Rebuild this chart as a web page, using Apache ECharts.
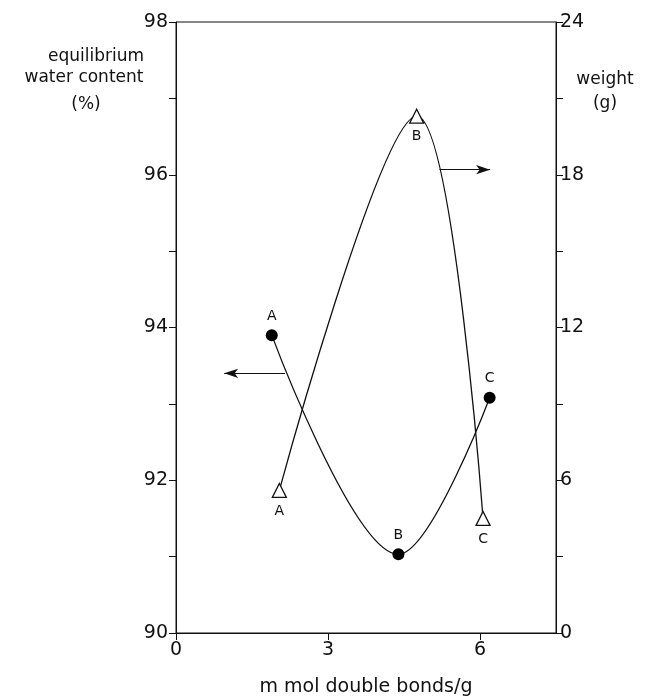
<!DOCTYPE html>
<html>
<head>
<meta charset="utf-8">
<script src="https://cdn.jsdelivr.net/npm/echarts@6/dist/echarts.min.js"></script>
<style>html,body{margin:0;padding:0;background:#fff;}#c{width:649px;height:700px;}</style>
</head>
<body>
<div id="c"></div>
<script>
// Data
const pointLabels = ['A', 'B', 'C'];
const doubleBondsWater = [1.89, 4.39, 6.19];
const waterContent = [93.9, 91.03, 93.08];
const doubleBondsWeight = [2.04, 4.75, 6.06];
const weightG = [5.6, 20.3, 4.5];
const xTicks = [0, 3, 6];
const leftTickLabels = [90, 92, 94, 96, 98];
const rightTickLabels = [0, 6, 12, 18, 24];
// annotation arrows (data coordinates)
const leftArrow = [[2.15, 93.4], [0.95, 93.4]];
const rightArrow = [[5.2, 18.2], [6.2, 18.2]];

const FONT = 'DejaVu Sans';
const chart = echarts.init(document.getElementById('c'));

const waterData = doubleBondsWater.map((x, i) => ({value: [x, waterContent[i]], name: pointLabels[i]}));
const weightData = doubleBondsWeight.map((x, i) => ({value: [x, weightG[i]], name: pointLabels[i]}));

function txt(t, x, y) {
  return {type: 'text', x: x, y: y, silent: true,
    style: {text: t, fontSize: 17, fontFamily: FONT, fill: '#111', align: 'center', verticalAlign: 'middle'}};
}

chart.setOption({
  animation: false,
  backgroundColor: '#fff',
  textStyle: {fontFamily: FONT, color: '#111'},
  grid: {left: 176, right: 93, top: 22, bottom: 67, outerBoundsMode: 'none', containLabel: false,
    show: true, borderColor: '#111', borderWidth: 1},
  xAxis: {
    type: 'value', min: 0, max: 7.5, interval: 3,
    axisLine: {show: true, lineStyle: {color: '#111', width: 1}},
    axisTick: {show: true, length: 7, lineStyle: {color: '#111'}},
    axisLabel: {fontSize: 19, color: '#111', fontFamily: FONT, margin: 8, showMaxLabel: false,
      formatter: v => xTicks.includes(v) ? String(v) : ''},
    splitLine: {show: false},
    name: 'm mol double bonds/g', nameLocation: 'middle', nameGap: 45,
    nameTextStyle: {fontSize: 19, color: '#111', fontFamily: FONT}
  },
  yAxis: [
    {
      type: 'value', min: 90, max: 98, interval: 1, position: 'left',
      axisLine: {show: true, lineStyle: {color: '#111', width: 1}},
      axisTick: {show: true, length: 7, lineStyle: {color: '#111'}},
      axisLabel: {fontSize: 19, color: '#111', fontFamily: FONT, margin: 8,
        formatter: v => leftTickLabels.includes(v) ? String(v) : ''},
      splitLine: {show: false}
    },
    {
      type: 'value', min: 0, max: 24, interval: 3, position: 'right',
      axisLine: {show: true, lineStyle: {color: '#111', width: 1}},
      axisTick: {show: true, length: 7, lineStyle: {color: '#111'}},
      axisLabel: {fontSize: 19, color: '#111', fontFamily: FONT, margin: 4,
        formatter: v => rightTickLabels.includes(v) ? String(v) : ''},
      splitLine: {show: false}
    }
  ],
  graphic: [
    txt('equilibrium', 96, 57),
    txt('water content', 84, 78),
    txt('(%)', 86, 105),
    txt('weight', 605, 80),
    txt('(g)', 605, 104)
  ],
  series: [
    {
      type: 'line', yAxisIndex: 0, smooth: 0.35, data: waterData,
      symbol: 'circle', symbolSize: 12,
      itemStyle: {color: '#000'},
      lineStyle: {color: '#111', width: 1.3},
      label: {show: true, position: 'top', distance: 6, formatter: p => p.name, fontSize: 14, color: '#111', fontFamily: FONT},
      markLine: {
        silent: true, symbol: ['none', 'arrow'], symbolSize: [7, 14],
        lineStyle: {color: '#111', width: 1.2, type: 'solid'}, label: {show: false},
        data: [[{coord: leftArrow[0]}, {coord: leftArrow[1]}]]
      }
    },
    {
      type: 'line', yAxisIndex: 1, smooth: 0.35, data: weightData,
      symbol: 'triangle', symbolSize: 14,
      itemStyle: {color: '#fff', borderColor: '#111', borderWidth: 1.3},
      lineStyle: {color: '#111', width: 1.3},
      label: {show: true, position: 'bottom', distance: 6, formatter: p => p.name, fontSize: 14, color: '#111', fontFamily: FONT},
      markLine: {
        silent: true, symbol: ['none', 'arrow'], symbolSize: [7, 14],
        lineStyle: {color: '#111', width: 1.2, type: 'solid'}, label: {show: false},
        data: [[{coord: rightArrow[0]}, {coord: rightArrow[1]}]]
      }
    }
  ]
});
</script>
</body>
</html>
